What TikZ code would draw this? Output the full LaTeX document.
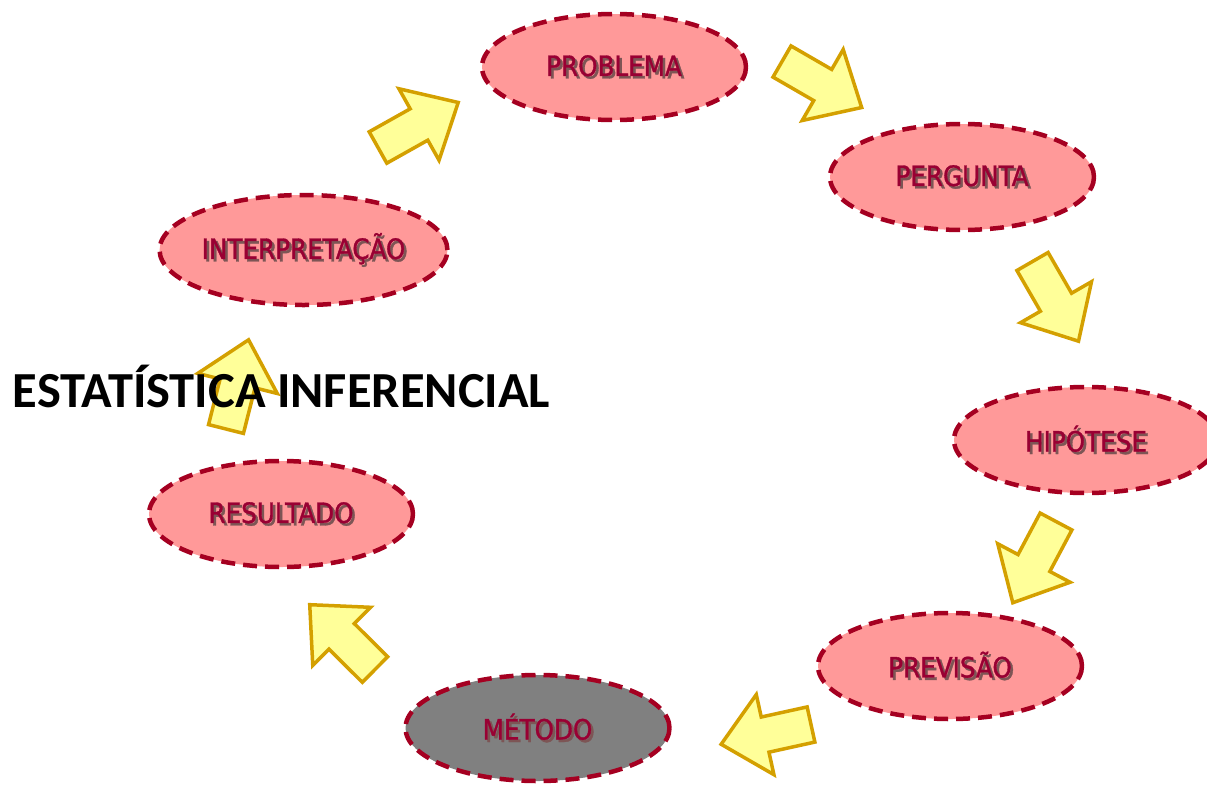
\documentclass[tikz,border=0pt]{standalone}
\usepackage{fontspec}
\setmainfont{DejaVu Sans}
\newfontfamily\elfont[FakeStretch=0.88,FakeBold=1.2]{DejaVu Sans}
\newfontfamily\titlefont{Carlito}
\usetikzlibrary{shapes.geometric}
\definecolor{ellfill}{RGB}{255,153,153}
\definecolor{ellborder}{RGB}{165,0,33}
\definecolor{elltext}{RGB}{153,0,51}
\definecolor{shadowc}{RGB}{125,85,85}
\definecolor{arrfill}{RGB}{255,255,153}
\definecolor{arrborder}{RGB}{212,160,0}
\definecolor{metodofill}{RGB}{128,128,128}
\newcommand\shtext[1]{\makebox[0pt][l]{\hspace{2.5pt}\raisebox{-2.5pt}{\color{shadowc}#1}}#1}
\tikzset{
  stepell/.style={ellipse, draw=ellborder, fill=ellfill, line width=4.5pt,
    dash pattern=on 14pt off 8pt, minimum width=264pt, minimum height=106pt,
    inner sep=0pt, text=elltext, font=\elfont\fontsize{28}{32}\selectfont},
  arrowsty/.style={draw=arrborder, fill=arrfill, line width=3.5pt, line join=miter},
  blockarrow/.pic={\path[arrowsty] (0,-18)--(47,-18)--(47,-41)--(92,0)--(47,41)--(47,18)--(0,18)--cycle;}
}
\begin{document}
\begin{tikzpicture}[x=1pt,y=-1pt]
\useasboundingbox (0,0) rectangle (1207,785);
\fill[white] (0,0) rectangle (1207,785);
% arrows
\pic[rotate=29.3] (a1) at (378,147.5) {blockarrow};
\pic[rotate=-30] (a2) at (782,61.5) {blockarrow};
\pic[rotate=-60] (a3) at (1032.5,261.5) {blockarrow};
\pic[rotate=-118] (a4) at (1056,521.5) {blockarrow};
\pic[rotate=-167.6] (a5) at (811,724.5) {blockarrow};
\pic[rotate=135.2] (a6) at (375,669.5) {blockarrow};
\pic[rotate=75.8] (a7) at (226,429) {blockarrow};
% ellipses
\node[stepell] (problema) at (614,67) {\shtext{PROBLEMA}};
\node[stepell] (pergunta) at (962,177) {\shtext{PERGUNTA}};
\node[stepell] (hipotese) at (1086,440) {\shtext{HIPÓTESE}};
\node[stepell] (previsao) at (950,666) {\shtext{PREVISÃO}};
\node[stepell, fill=metodofill] (metodo) at (537.5,728) {\shtext{MÉTODO}};
\node[stepell] (resultado) at (281,514) {\shtext{RESULTADO}};
\node[stepell, minimum width=268pt, minimum height=110pt] (interp) at (303.5,250) {\shtext{INTERPRETAÇÃO}};
% title
\node[font=\titlefont\bfseries\fontsize{50.5}{56}\selectfont, inner sep=0pt] (titulo) at (281.5,386) {ESTATÍSTICA INFERENCIAL};
\end{tikzpicture}
\end{document}
